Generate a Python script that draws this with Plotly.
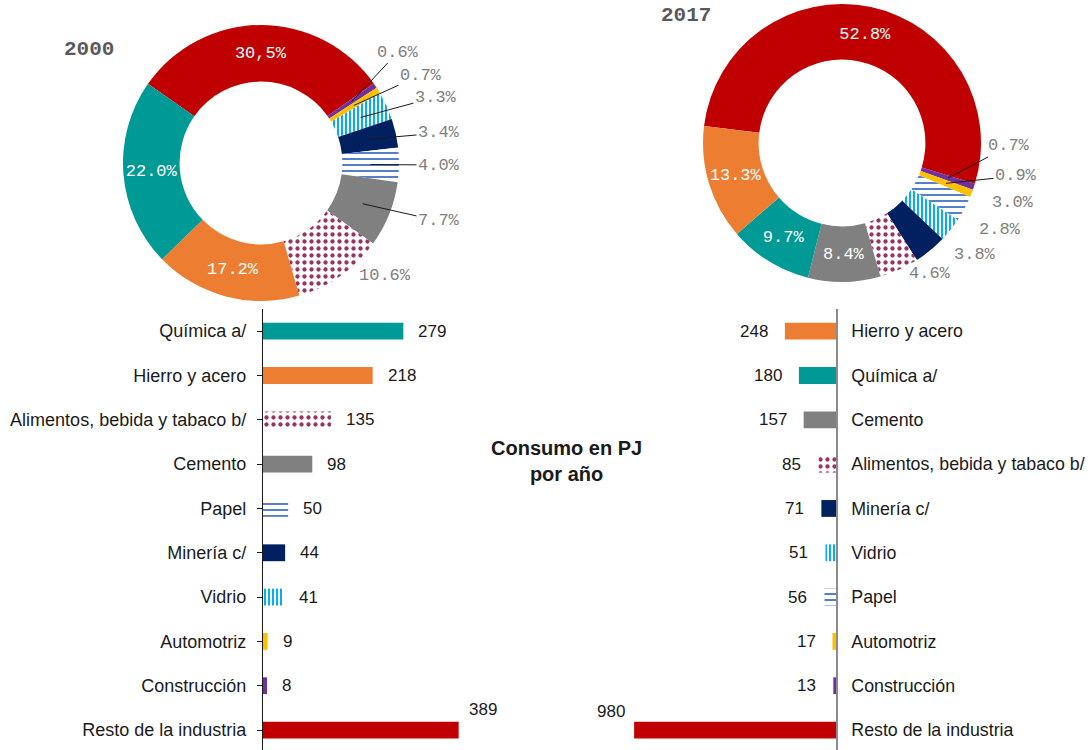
import math
import plotly.graph_objects as go

W, H = 1090, 750

# --- datos de barras (PJ por año) ---
sectores_2000 = ["Química a/", "Hierro y acero", "Alimentos, bebida y tabaco b/", "Cemento", "Papel",
                 "Minería c/", "Vidrio", "Automotriz", "Construcción", "Resto de la industria"]
consumo_2000 = [279, 218, 135, 98, 50, 44, 41, 9, 8, 389]

sectores_2017 = ["Hierro y acero", "Química a/", "Cemento", "Alimentos, bebida y tabaco b/", "Minería c/",
                 "Vidrio", "Papel", "Automotriz", "Construcción", "Resto de la industria"]
consumo_2017 = [248, 180, 157, 85, 71, 51, 56, 17, 13, 980]

# --- datos de donas (participación %), en orden horario desde "Resto" ---
dona_2000 = ["Resto de la industria", "Construcción", "Automotriz", "Vidrio", "Minería c/", "Papel",
             "Cemento", "Alimentos, bebida y tabaco b/", "Hierro y acero", "Química a/"]
pct_2000 = [30.5, 0.6, 0.7, 3.3, 3.4, 4.0, 7.7, 10.6, 17.2, 22.0]
etiq_2000 = ["30,5%", "0.6%", "0.7%", "3.3%", "3.4%", "4.0%", "7.7%", "10.6%", "17.2%", "22.0%"]

dona_2017 = ["Resto de la industria", "Construcción", "Automotriz", "Papel", "Vidrio", "Minería c/",
             "Alimentos, bebida y tabaco b/", "Cemento", "Química a/", "Hierro y acero"]
pct_2017 = [52.8, 0.7, 0.9, 3.0, 2.8, 3.8, 4.6, 8.4, 9.7, 13.3]
etiq_2017 = ["52.8%", "0.7%", "0.9%", "3.0%", "2.8%", "3.8%", "4.6%", "8.4%", "9.7%", "13.3%"]

# estilo por sector: (color, patrón, tamaño, solidez)
estilo = {
    "Química a/": ("#009a96", "", 8, 0.3),
    "Hierro y acero": ("#ed7d31", "", 8, 0.3),
    "Alimentos, bebida y tabaco b/": ("#993366", ".", 7, 0.3),
    "Cemento": ("#808080", "", 8, 0.3),
    "Papel": ("#4472c4", "-", 6, 0.3),
    "Minería c/": ("#002060", "", 8, 0.3),
    "Vidrio": ("#00b0f0", "|", 4, 0.5),
    "Automotriz": ("#ffc000", "", 8, 0.3),
    "Construcción": ("#7030a0", "", 8, 0.3),
    "Resto de la industria": ("#c00000", "", 8, 0.3),
}

# geometría de cada dona (px) y posición de etiquetas externas: (centro del texto, con línea)
geo_2000 = dict(cx=261, cy=163, R=138, r=81, rot=-55, hole=0.59)
lab_2000 = {1: (398, 52, True), 2: (421, 75, True), 3: (436, 97, True), 4: (439, 133, True),
            5: (439, 165, True), 6: (439, 221, True), 7: (385, 275, False)}
geo_2017 = dict(cx=842, cy=143, R=139, r=84, rot=-83, hole=0.60)
lab_2017 = {1: (1009, 146, True), 2: (1016, 176, True), 3: (1013, 203, False), 4: (1000, 229, False),
            5: (975, 254, False), 6: (930, 274, False)}

SANS = "Liberation Sans, Arial, sans-serif"
MONO = "Liberation Mono, Courier New, monospace"


def fx(p):
    return p / W


def fy(p):
    return min(1.0, max(0.0, 1 - p / H))


def patron(sectores):
    cols = [estilo[s][0] for s in sectores]
    return cols, dict(shape=[estilo[s][1] for s in sectores], fgcolor=cols, bgcolor="white",
                      fillmode="replace", size=[estilo[s][2] for s in sectores],
                      solidity=[estilo[s][3] for s in sectores])


fig = go.Figure()
anots = []

for sectores, pct, etiq, g, lab in [(dona_2000, pct_2000, etiq_2000, geo_2000, lab_2000),
                                    (dona_2017, pct_2017, etiq_2017, geo_2017, lab_2017)]:
    cols, pat = patron(sectores)
    fig.add_trace(go.Pie(
        labels=sectores, values=pct, text=etiq, textinfo="text", hoverinfo="skip",
        textposition=["none" if i in lab else "inside" for i in range(len(pct))],
        insidetextorientation="horizontal",
        insidetextfont=dict(family=MONO, size=17, color="white"),
        hole=g["hole"], sort=False, direction="clockwise", rotation=g["rot"],
        marker=dict(colors=cols, line=dict(width=0), pattern=pat), showlegend=False,
        domain=dict(x=[fx(g["cx"] - g["R"]), fx(g["cx"] + g["R"])],
                    y=[fy(g["cy"] + g["R"]), fy(g["cy"] - g["R"])]),
    ))
    # etiquetas externas con líneas guía hacia el centro de cada porción
    total = sum(pct)
    acum = 0
    rm = (g["R"] + g["r"]) / 2
    for i, v in enumerate(pct):
        medio = math.radians(g["rot"] + (acum + v / 2) / total * 360)
        acum += v
        if i not in lab:
            continue
        tx, ty, linea = lab[i]
        px = g["cx"] + rm * math.sin(medio)
        py = g["cy"] - rm * math.cos(medio)
        a = dict(xref="paper", yref="paper", text=etiq[i],
                 font=dict(family=MONO, size=17, color="#7f7f7f"))
        if linea:
            a.update(x=fx(px), y=fy(py), showarrow=True, arrowhead=0, arrowwidth=1,
                     arrowcolor="#1a1a1a", ax=tx - px, ay=ty - py, standoff=0)
        else:
            a.update(x=fx(tx), y=fy(ty), showarrow=False, xanchor="center", yanchor="middle")
        anots.append(a)

cols, pat = patron(sectores_2000)
fig.add_trace(go.Bar(x=consumo_2000, y=sectores_2000, orientation="h", width=0.38,
                     marker=dict(color=cols, line=dict(width=0), pattern=pat), hoverinfo="skip",
                     xaxis="x", yaxis="y", showlegend=False))
cols, pat = patron(sectores_2017)
fig.add_trace(go.Bar(x=consumo_2017, y=sectores_2017, orientation="h", width=0.38,
                     marker=dict(color=cols, line=dict(width=0), pattern=pat), hoverinfo="skip",
                     xaxis="x2", yaxis="y2", showlegend=False))

valores = []
for s, v in zip(sectores_2000, consumo_2000):
    if v == max(consumo_2000):
        valores.append(dict(x=v, y=s, xref="x", yref="y", xanchor="center", xshift=24, yshift=21))
    else:
        valores.append(dict(x=v, y=s, xref="x", yref="y", xanchor="left", xshift=13))
for s, v in zip(sectores_2017, consumo_2017):
    if v == max(consumo_2017):
        valores.append(dict(x=v, y=s, xref="x2", yref="y2", xanchor="center", xshift=-23, yshift=19))
    else:
        valores.append(dict(x=v, y=s, xref="x2", yref="y2", xanchor="right", xshift=-15))
for a in valores:
    a.update(text=str(a["x"]), showarrow=False, font=dict(family=SANS, size=17, color="#1a1a1a"))
anots += valores

anots.append(dict(x=fx(567), y=fy(461), xref="paper", yref="paper", showarrow=False,
                  xanchor="center", yanchor="middle",
                  text="<b>Consumo en PJ<br>por año</b>", align="center",
                  font=dict(family=SANS, size=20, color="#1a1a1a")))
anots.append(dict(x=fx(62), y=fy(50), xref="paper", yref="paper", showarrow=False,
                  xanchor="left", yanchor="middle", text="<b>2000</b>",
                  font=dict(family=MONO, size=21, color="#595959")))
anots.append(dict(x=fx(659), y=fy(16), xref="paper", yref="paper", showarrow=False,
                  xanchor="left", yanchor="middle", text="<b>2017</b>",
                  font=dict(family=MONO, size=21, color="#595959")))

ydom = [0, fy(309)]
yrango = [9.45, -0.5]
fig.update_layout(
    width=W, height=H, margin=dict(l=0, r=0, t=0, b=0),
    paper_bgcolor="white", plot_bgcolor="white", hovermode=False,
    annotations=anots,
    xaxis=dict(domain=[fx(263), fx(480)], range=[0, (480 - 263) / 0.503], visible=False, anchor="y"),
    yaxis=dict(domain=ydom, type="category", categoryorder="array", categoryarray=sectores_2000,
               range=yrango, anchor="x", showline=True, linecolor="#1a1a1a", linewidth=1.3,
               ticks="outside", ticklen=5, tickcolor="#1a1a1a", ticklabelstandoff=7,
               showgrid=False, zeroline=False,
               tickfont=dict(family=SANS, size=18, color="#1a1a1a")),
    xaxis2=dict(domain=[fx(600), fx(836)], range=[(836 - 600) / 0.206, 0], visible=False, anchor="y2"),
    yaxis2=dict(domain=ydom, type="category", categoryorder="array", categoryarray=sectores_2017,
                range=yrango, anchor="x2", side="right", showline=True, linecolor="#8c8c8c",
                linewidth=1.5, ticks="", ticklabelstandoff=10, showgrid=False, zeroline=False,
                tickfont=dict(family=SANS, size=17.8, color="#1a1a1a")),
)

# sin el margen por defecto del <body>, la figura ocupa exactamente la ventana
fig.write_html("out.html", config={"displayModeBar": False},
               post_script="document.body.style.margin = '0';")
